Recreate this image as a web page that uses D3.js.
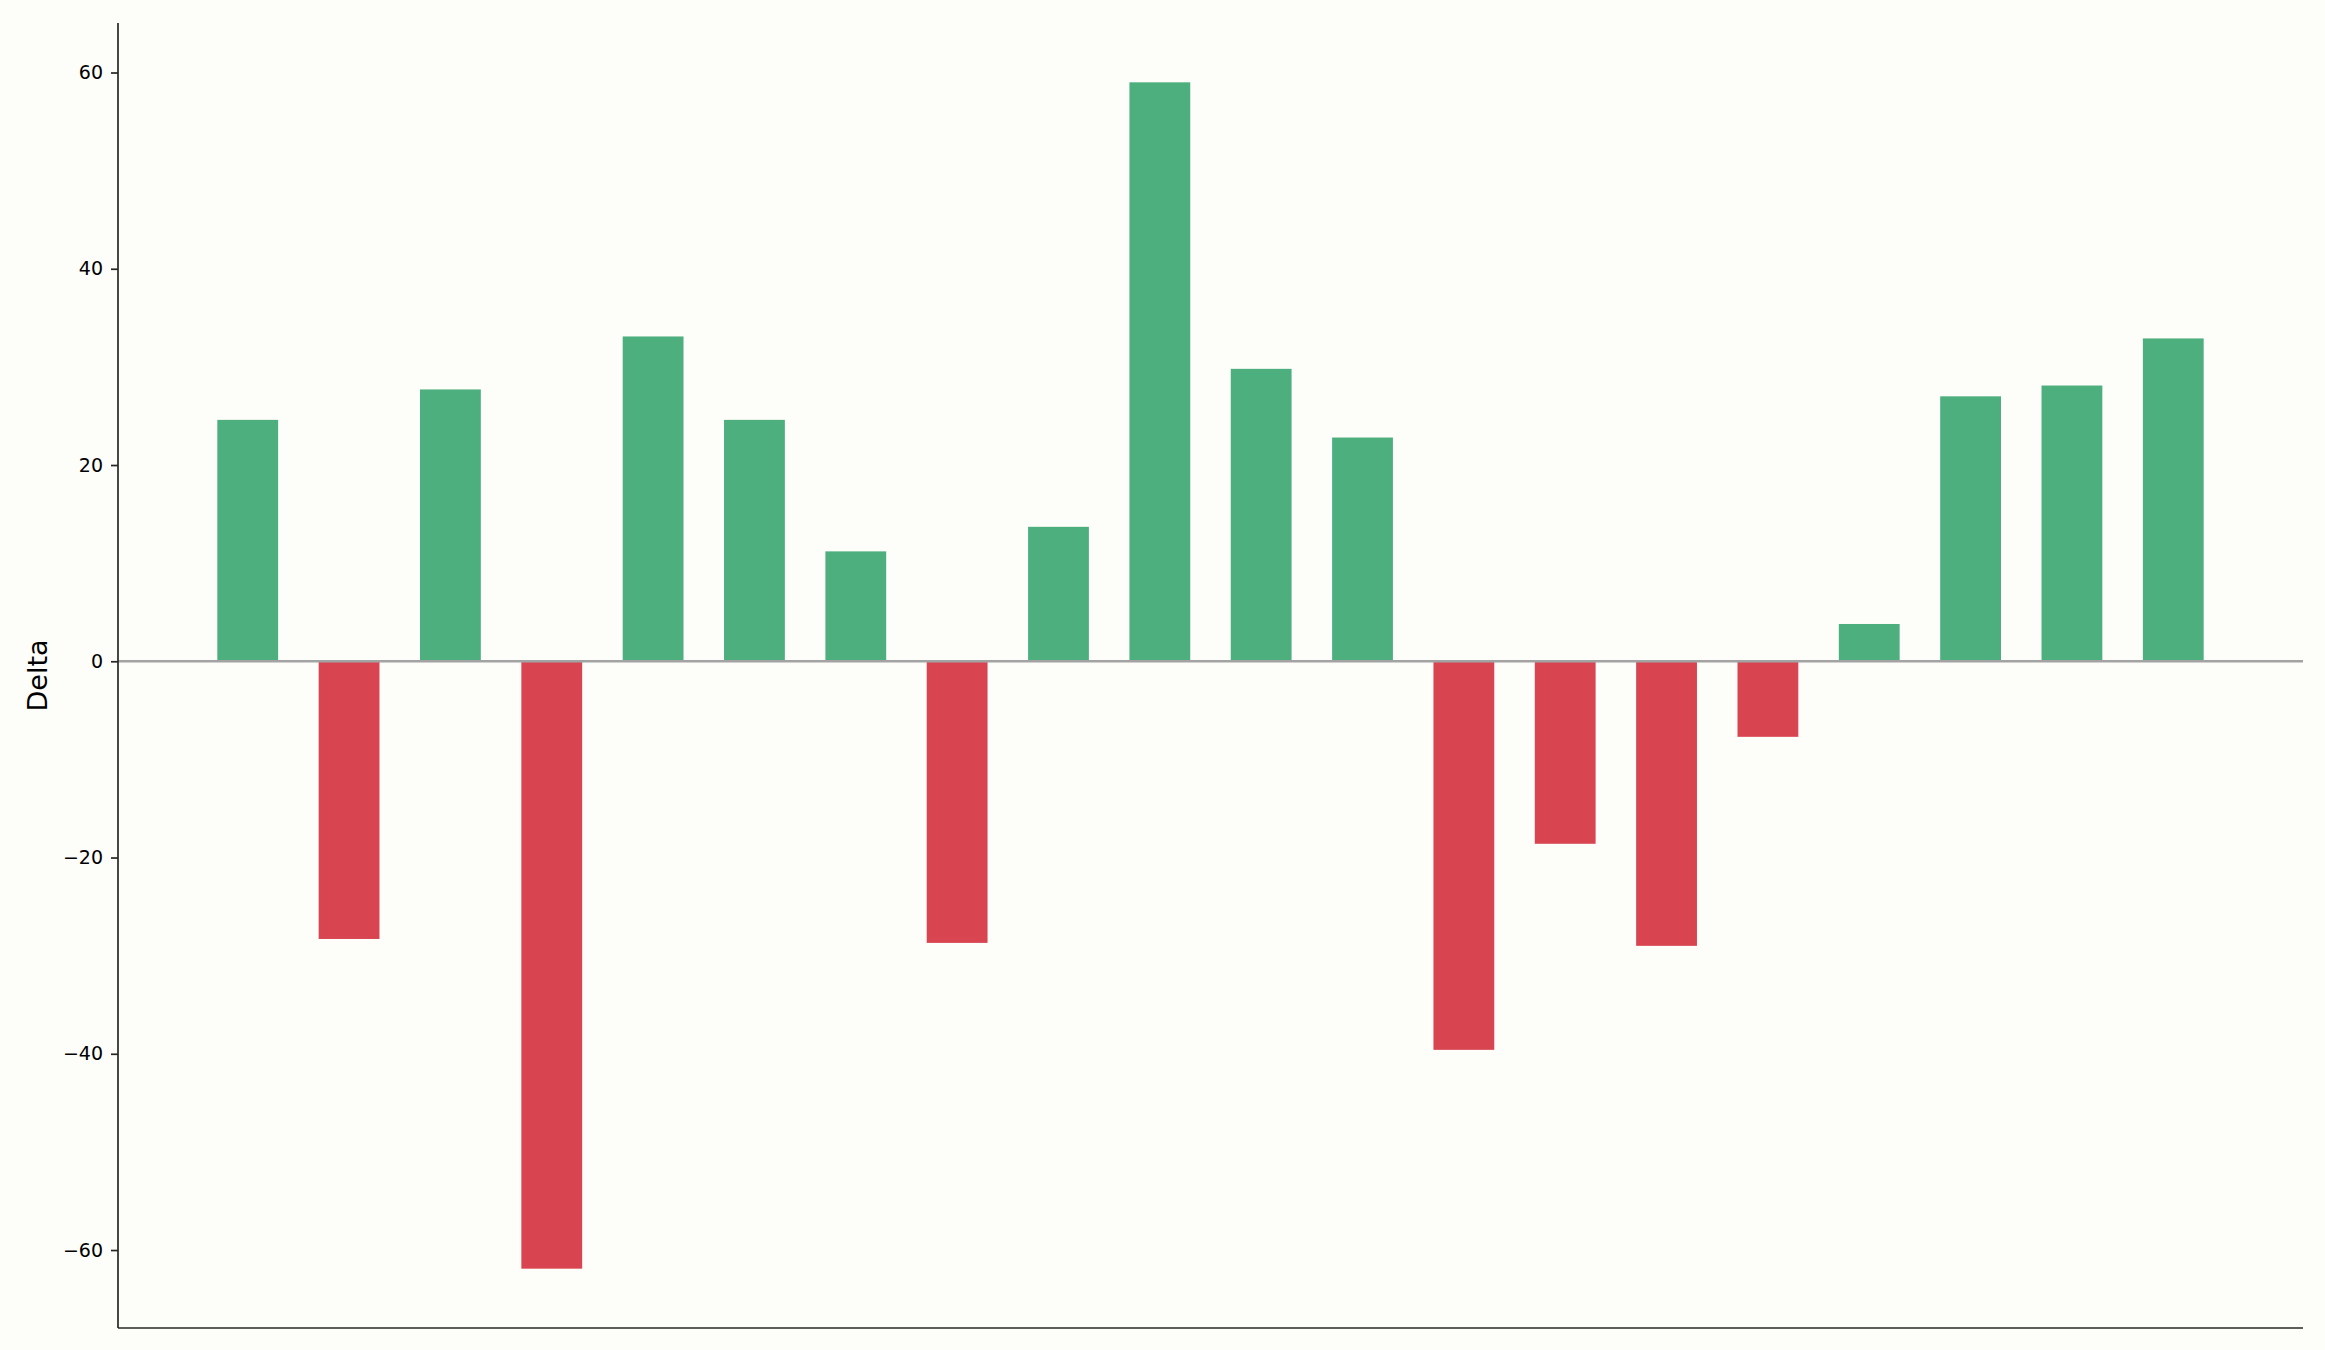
<!DOCTYPE html>
<html>
<head>
<meta charset="utf-8">
<script src="https://cdn.jsdelivr.net/npm/d3@7"></script>
<style>
  html, body { margin: 0; padding: 0; background: #fdfdf9; }
  svg { display: block; font-family: "DejaVu Sans", sans-serif; }
</style>
</head>
<body>
<div id="vis"></div>
<script>
const FRAME_WIDTH = 2325;
const FRAME_HEIGHT = 1350;
const MARGINS = {left: 118, right: 22, top: 23, bottom: 22};

// data
const categories = d3.range(1, 21).map(i => 'P' + i);
const deltas = [24.6, -28.3, 27.7, -61.9, 33.1, 24.6, 11.2, -28.7, 13.7, 59.0,
                29.8, 22.8, -39.6, -18.6, -29.0, -7.7, 3.8, 27.0, 28.1, 32.9];
const yTicks = [-60, -40, -20, 0, 20, 40, 60];
const yLabel = 'Delta';

const GREEN = '#4daf7e';
const RED = '#d84551';

const VIS_WIDTH = FRAME_WIDTH - MARGINS.left - MARGINS.right;
const VIS_HEIGHT = FRAME_HEIGHT - MARGINS.top - MARGINS.bottom;

const FRAME = d3.select('#vis')
  .append('svg')
    .attr('width', FRAME_WIDTH)
    .attr('height', FRAME_HEIGHT);

FRAME.append('rect')
  .attr('width', FRAME_WIDTH)
  .attr('height', FRAME_HEIGHT)
  .attr('fill', '#fdfdf9');

const data = categories.map((c, i) => ({cat: c, value: deltas[i]}));

// same 5% margins matplotlib would add
const yMin = d3.min(deltas), yMax = d3.max(deltas);
const yPad = (yMax - yMin) * 0.05;

const X_SCALE = d3.scaleBand()
  .domain(categories)
  .range([0, VIS_WIDTH])
  .paddingInner(0.4)
  .paddingOuter(0.98);

const Y_SCALE = d3.scaleLinear()
  .domain([yMin - yPad, yMax + yPad])
  .range([VIS_HEIGHT, 0]);

const g = FRAME.append('g')
  .attr('transform', 'translate(' + MARGINS.left + ',' + MARGINS.top + ')');

// bars
g.selectAll('.bar')
  .data(data)
  .enter()
  .append('rect')
    .attr('class', 'bar')
    .attr('x', d => X_SCALE(d.cat))
    .attr('width', X_SCALE.bandwidth())
    .attr('y', d => Y_SCALE(Math.max(0, d.value)))
    .attr('height', d => Math.abs(Y_SCALE(d.value) - Y_SCALE(0)))
    .attr('fill', d => d.value >= 0 ? GREEN : RED);

// zero line
g.append('line')
  .attr('x1', 0)
  .attr('x2', VIS_WIDTH)
  .attr('y1', Y_SCALE(0))
  .attr('y2', Y_SCALE(0))
  .attr('stroke', '#a3a3a3')
  .attr('stroke-width', 2.5);

// y axis
const yAxis = g.append('g')
  .call(d3.axisLeft(Y_SCALE).tickValues(yTicks).tickSize(7).tickPadding(8)
        .tickFormat(d => d3.format('d')(d).replace('-', '\u2212')))
  .attr('font-family', '"DejaVu Sans", sans-serif')
  .attr('font-size', 19);
yAxis.select('.domain')
  .attr('stroke', '#262626')
  .attr('stroke-width', 1.7)
  .attr('d', 'M0,0V' + VIS_HEIGHT);
yAxis.selectAll('.tick line')
  .attr('stroke', '#262626')
  .attr('stroke-width', 1.7);
yAxis.selectAll('.tick text')
  .attr('fill', '#000');

// bottom spine, no ticks
g.append('line')
  .attr('x1', 0)
  .attr('x2', VIS_WIDTH)
  .attr('y1', VIS_HEIGHT)
  .attr('y2', VIS_HEIGHT)
  .attr('stroke', '#262626')
  .attr('stroke-width', 1.7);

// y axis label
FRAME.append('text')
  .attr('transform', 'translate(47,' + (MARGINS.top + VIS_HEIGHT / 2) + ') rotate(-90)')
  .style('text-anchor', 'middle')
  .attr('font-size', '27px')
  .attr('fill', '#000')
  .text(yLabel);
</script>
</body>
</html>
